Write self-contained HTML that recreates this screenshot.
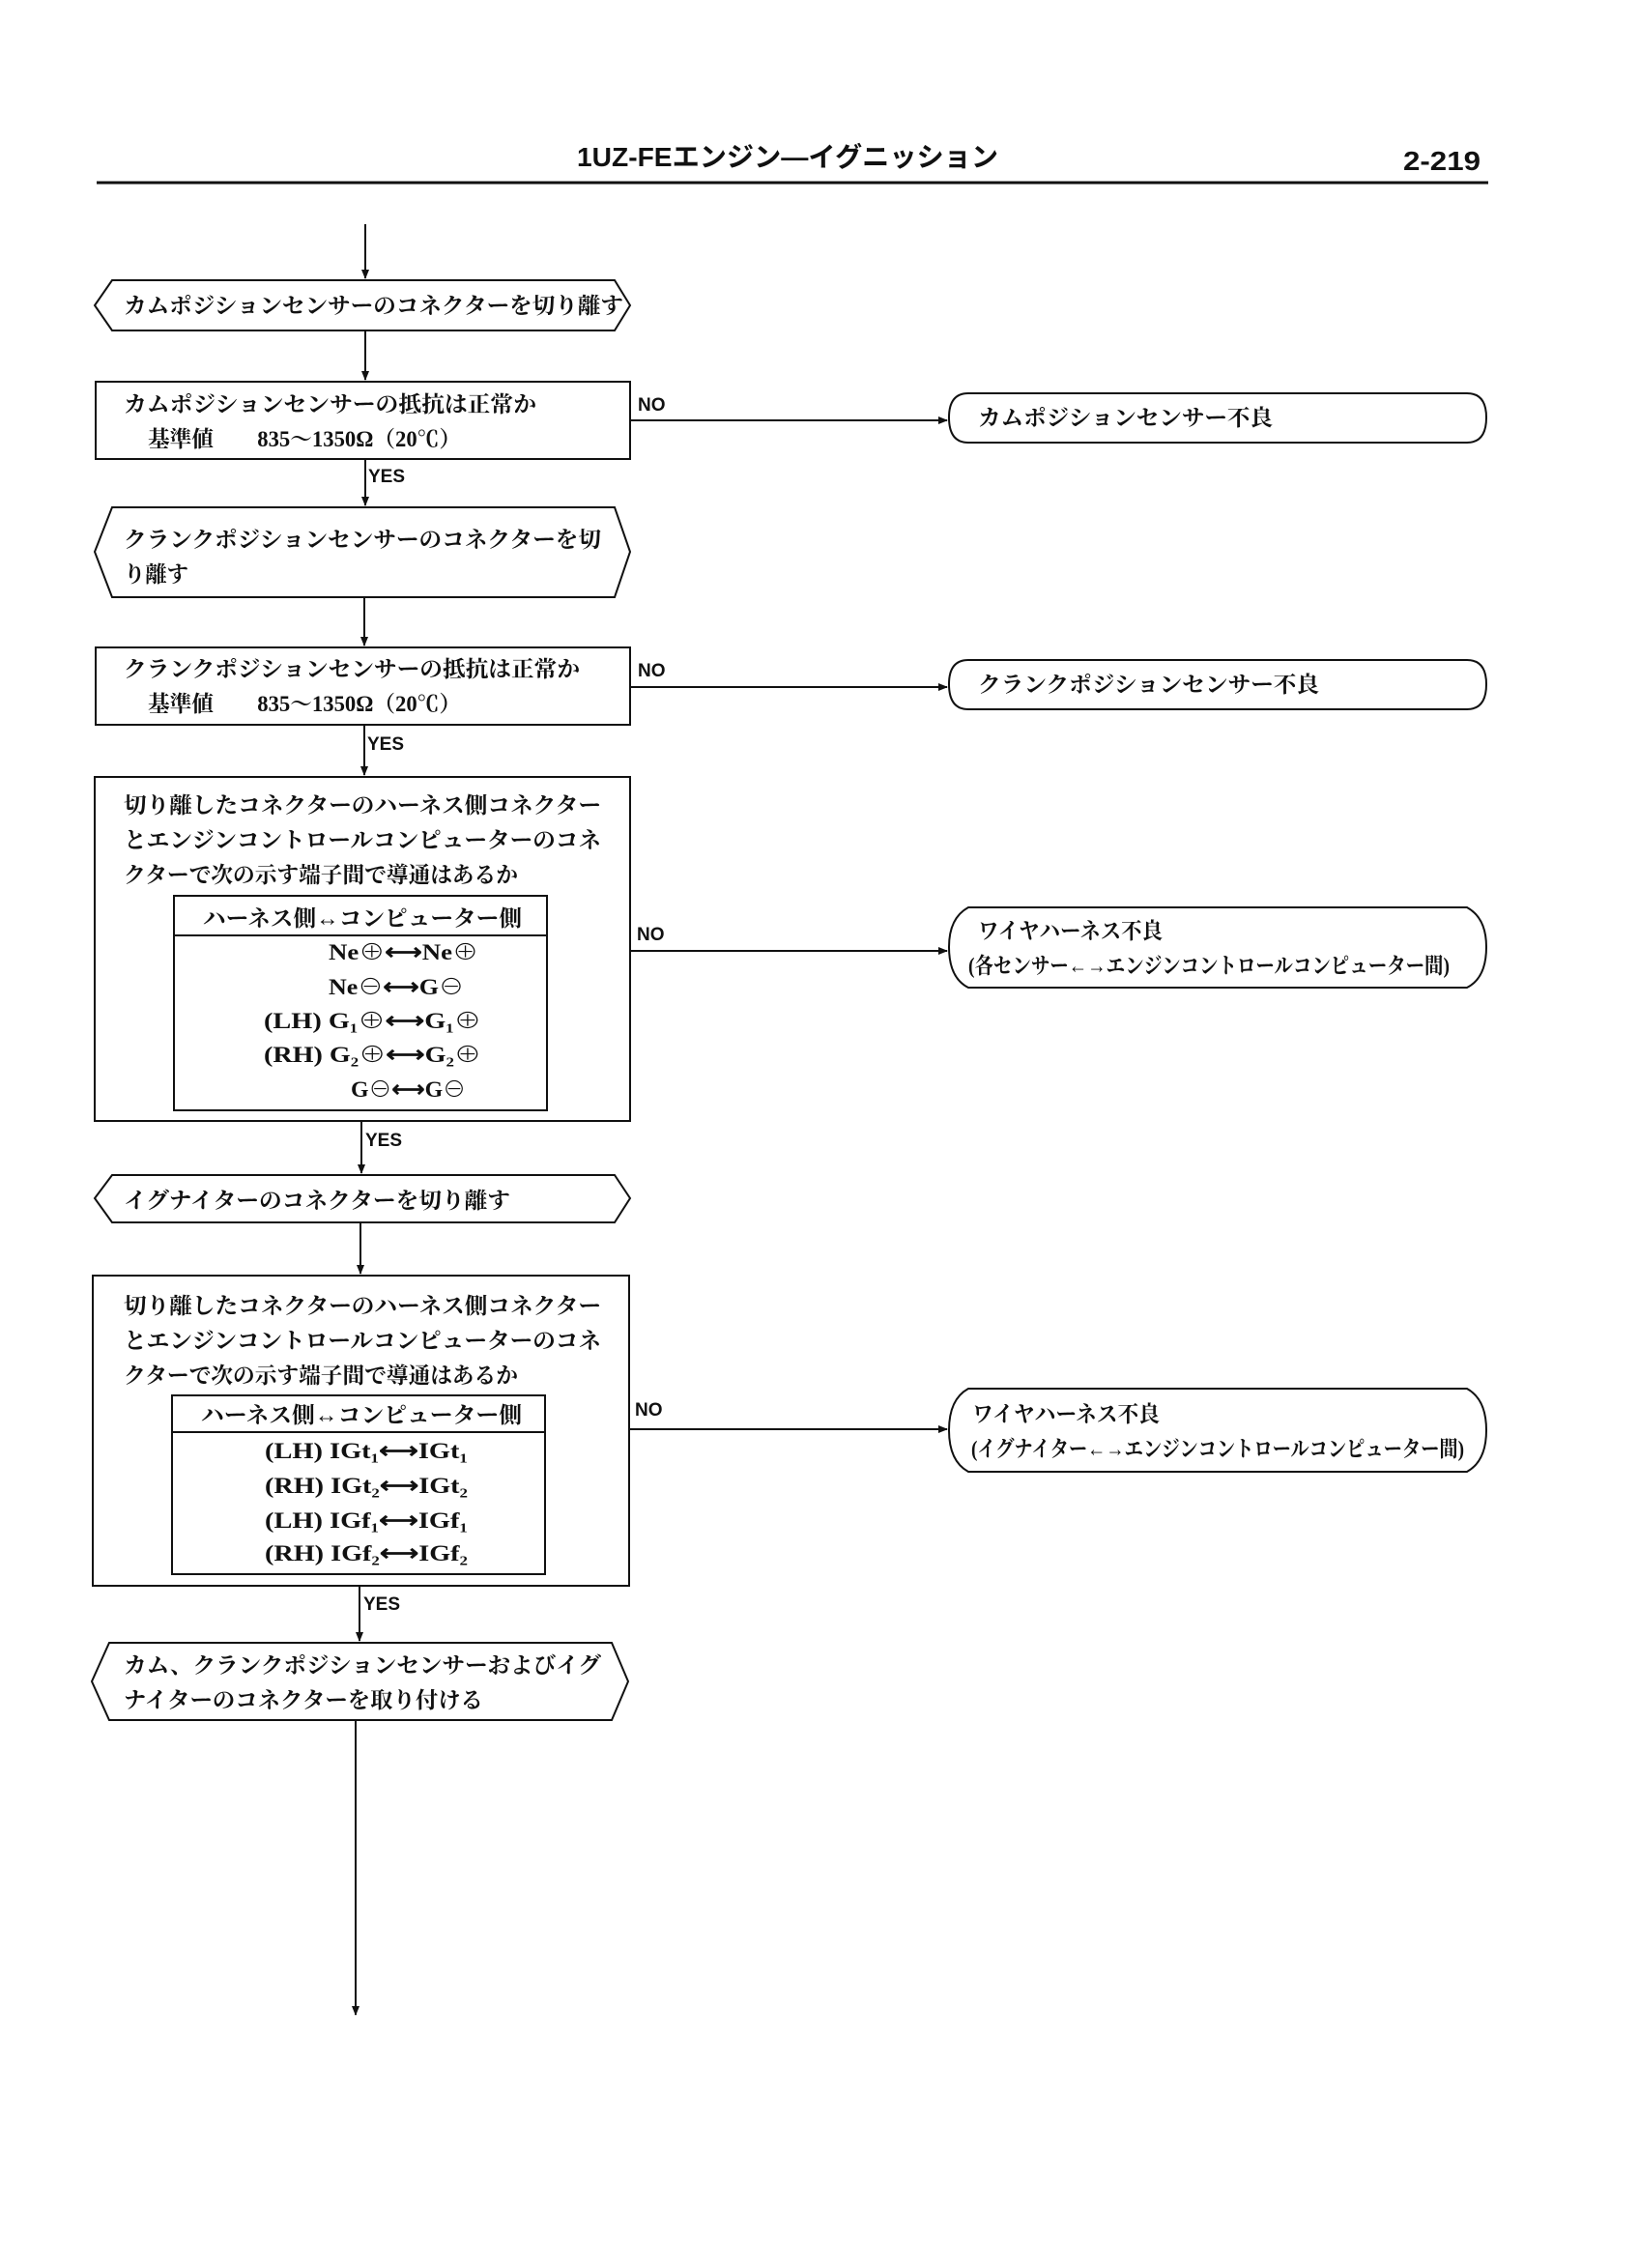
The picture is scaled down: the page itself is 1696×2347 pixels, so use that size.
<!DOCTYPE html>
<html><head><meta charset="utf-8"><style>
html,body{margin:0;padding:0;background:#fff}
svg{display:block}
text{font-family:"Liberation Serif","Noto Serif CJK JP","Noto Sans CJK JP",serif;font-size:23px;font-weight:bold;fill:#111}
.s{font-family:"Liberation Sans","Noto Sans CJK JP",sans-serif;font-size:19px;font-weight:bold}
.h{font-family:"Liberation Sans","Noto Sans CJK JP",sans-serif;font-size:28px;font-weight:bold}
</style></head><body>
<svg width="1696" height="2347" viewBox="0 0 1696 2347" xmlns="http://www.w3.org/2000/svg">
<defs><marker id="a" markerWidth="10" markerHeight="10" refX="9" refY="5" orient="auto" markerUnits="userSpaceOnUse"><path d="M0,1 L10,5 L0,9 z" fill="#111"/></marker></defs>
<g stroke="#111" stroke-width="2" fill="none">
<line x1="100" y1="189" x2="1540" y2="189" stroke-width="3"/>
<!-- vertical connectors -->
<line x1="378" y1="232" x2="378" y2="288" marker-end="url(#a)"/>
<line x1="378" y1="342" x2="378" y2="393" marker-end="url(#a)"/>
<line x1="378" y1="475" x2="378" y2="523" marker-end="url(#a)"/>
<line x1="377" y1="618" x2="377" y2="668" marker-end="url(#a)"/>
<line x1="377" y1="750" x2="377" y2="802" marker-end="url(#a)"/>
<line x1="374" y1="1160" x2="374" y2="1214" marker-end="url(#a)"/>
<line x1="373" y1="1265" x2="373" y2="1318" marker-end="url(#a)"/>
<line x1="372" y1="1641" x2="372" y2="1698" marker-end="url(#a)"/>
<line x1="368" y1="1780" x2="368" y2="2085" marker-end="url(#a)"/>
<!-- horizontal NO -->
<line x1="652" y1="435" x2="980" y2="435" marker-end="url(#a)"/>
<line x1="652" y1="711" x2="980" y2="711" marker-end="url(#a)"/>
<line x1="652" y1="984" x2="980" y2="984" marker-end="url(#a)"/>
<line x1="652" y1="1479" x2="980" y2="1479" marker-end="url(#a)"/>
<!-- hexagons -->
<polygon points="116,290 636,290 652,316 636,342 116,342 98,316"/>
<polygon points="116,525 636,525 652,571 636,618 116,618 98,571"/>
<polygon points="116,1216 636,1216 652,1240 636,1265 116,1265 98,1240"/>
<polygon points="113,1700 633,1700 650,1740 633,1780 113,1780 95,1740"/>
<!-- boxes -->
<rect x="99" y="395" width="553" height="80"/>
<rect x="99" y="670" width="553" height="80"/>
<rect x="98" y="804" width="554" height="356"/>
<rect x="180" y="927" width="386" height="222"/>
<line x1="180" y1="968" x2="566" y2="968"/>
<rect x="96" y="1320" width="555" height="321"/>
<rect x="178" y="1444" width="386" height="185"/>
<line x1="178" y1="1482" x2="564" y2="1482"/>
<!-- terminals -->
<path d="M1002,407 L1518,407 Q1538,407 1538,432 Q1538,458 1518,458 L1002,458 Q982,458 982,432 Q982,407 1002,407 Z"/>
<path d="M1002,683 L1518,683 Q1538,683 1538,708 Q1538,734 1518,734 L1002,734 Q982,734 982,708 Q982,683 1002,683 Z"/>
<path d="M1002,939 L1518,939 Q1538,950 1538,980 Q1538,1012 1518,1022 L1002,1022 Q982,1012 982,980 Q982,950 1002,939 Z"/>
<path d="M1002,1437 L1518,1437 Q1538,1448 1538,1480 Q1538,1512 1518,1523 L1002,1523 Q982,1512 982,1480 Q982,1448 1002,1437 Z"/>
</g>
<text class="h" x="597" y="172" textLength="436" lengthAdjust="spacingAndGlyphs">1UZ-FEエンジン—イグニッション</text>
<text class="h" x="1452" y="176" textLength="80" lengthAdjust="spacingAndGlyphs">2-219</text>

<text x="128" y="324" textLength="517" lengthAdjust="spacingAndGlyphs">カムポジションセンサーのコネクターを切り離す</text>
<text x="128" y="426" textLength="427" lengthAdjust="spacingAndGlyphs">カムポジションセンサーの抵抗は正常か</text>
<text x="153" y="462" textLength="324" lengthAdjust="spacingAndGlyphs">基準値　　835～1350Ω（20℃）</text>
<text class="s" x="660" y="425">NO</text>
<text class="s" x="381" y="499">YES</text>
<text x="1012" y="440" textLength="305" lengthAdjust="spacingAndGlyphs">カムポジションセンサー不良</text>

<text x="128" y="566" textLength="494" lengthAdjust="spacingAndGlyphs">クランクポジションセンサーのコネクターを切</text>
<text x="128" y="602" textLength="67" lengthAdjust="spacingAndGlyphs">り離す</text>
<text x="128" y="700" textLength="472" lengthAdjust="spacingAndGlyphs">クランクポジションセンサーの抵抗は正常か</text>
<text x="153" y="736" textLength="324" lengthAdjust="spacingAndGlyphs">基準値　　835～1350Ω（20℃）</text>
<text class="s" x="660" y="700">NO</text>
<text class="s" x="380" y="776">YES</text>
<text x="1012" y="716" textLength="353" lengthAdjust="spacingAndGlyphs">クランクポジションセンサー不良</text>

<text x="128" y="841" textLength="494" lengthAdjust="spacingAndGlyphs">切り離したコネクターのハーネス側コネクター</text>
<text x="128" y="877" textLength="494" lengthAdjust="spacingAndGlyphs">とエンジンコントロールコンピューターのコネ</text>
<text x="128" y="913" textLength="408" lengthAdjust="spacingAndGlyphs">クターで次の示す端子間で導通はあるか</text>
<text x="210" y="958" textLength="330" lengthAdjust="spacingAndGlyphs">ハーネス側↔コンピューター側</text>
<text x="340" y="993" textLength="155" lengthAdjust="spacingAndGlyphs">Ne⊕⟷Ne⊕</text>
<text x="340" y="1029" textLength="140" lengthAdjust="spacingAndGlyphs">Ne⊖⟷G⊖</text>
<text x="273" y="1064" textLength="225" lengthAdjust="spacingAndGlyphs">(LH) G₁⊕⟷G₁⊕</text>
<text x="273" y="1099" textLength="225" lengthAdjust="spacingAndGlyphs">(RH) G₂⊕⟷G₂⊕</text>
<text x="363" y="1135" textLength="119" lengthAdjust="spacingAndGlyphs">G⊖⟷G⊖</text>
<text class="s" x="659" y="973">NO</text>
<text class="s" x="378" y="1186">YES</text>
<text x="1012" y="971" textLength="191" lengthAdjust="spacingAndGlyphs">ワイヤハーネス不良</text>
<text x="1002" y="1007" textLength="498" lengthAdjust="spacingAndGlyphs">(各センサー←→エンジンコントロールコンピューター間)</text>

<text x="128" y="1250" textLength="400" lengthAdjust="spacingAndGlyphs">イグナイターのコネクターを切り離す</text>
<text x="128" y="1359" textLength="494" lengthAdjust="spacingAndGlyphs">切り離したコネクターのハーネス側コネクター</text>
<text x="128" y="1395" textLength="494" lengthAdjust="spacingAndGlyphs">とエンジンコントロールコンピューターのコネ</text>
<text x="128" y="1431" textLength="408" lengthAdjust="spacingAndGlyphs">クターで次の示す端子間で導通はあるか</text>
<text x="208" y="1472" textLength="332" lengthAdjust="spacingAndGlyphs">ハーネス側↔コンピューター側</text>
<text x="274" y="1509" textLength="210" lengthAdjust="spacingAndGlyphs">(LH) IGt₁⟷IGt₁</text>
<text x="274" y="1545" textLength="210" lengthAdjust="spacingAndGlyphs">(RH) IGt₂⟷IGt₂</text>
<text x="274" y="1581" textLength="210" lengthAdjust="spacingAndGlyphs">(LH) IGf₁⟷IGf₁</text>
<text x="274" y="1615" textLength="210" lengthAdjust="spacingAndGlyphs">(RH) IGf₂⟷IGf₂</text>
<text class="s" x="657" y="1465">NO</text>
<text class="s" x="376" y="1666">YES</text>
<text x="1006" y="1471" textLength="194" lengthAdjust="spacingAndGlyphs">ワイヤハーネス不良</text>
<text x="1005" y="1507" textLength="510" lengthAdjust="spacingAndGlyphs">(イグナイター←→エンジンコントロールコンピューター間)</text>

<text x="128" y="1731" textLength="494" lengthAdjust="spacingAndGlyphs">カム、クランクポジションセンサーおよびイグ</text>
<text x="128" y="1767" textLength="372" lengthAdjust="spacingAndGlyphs">ナイターのコネクターを取り付ける</text>
</svg>
</body></html>
